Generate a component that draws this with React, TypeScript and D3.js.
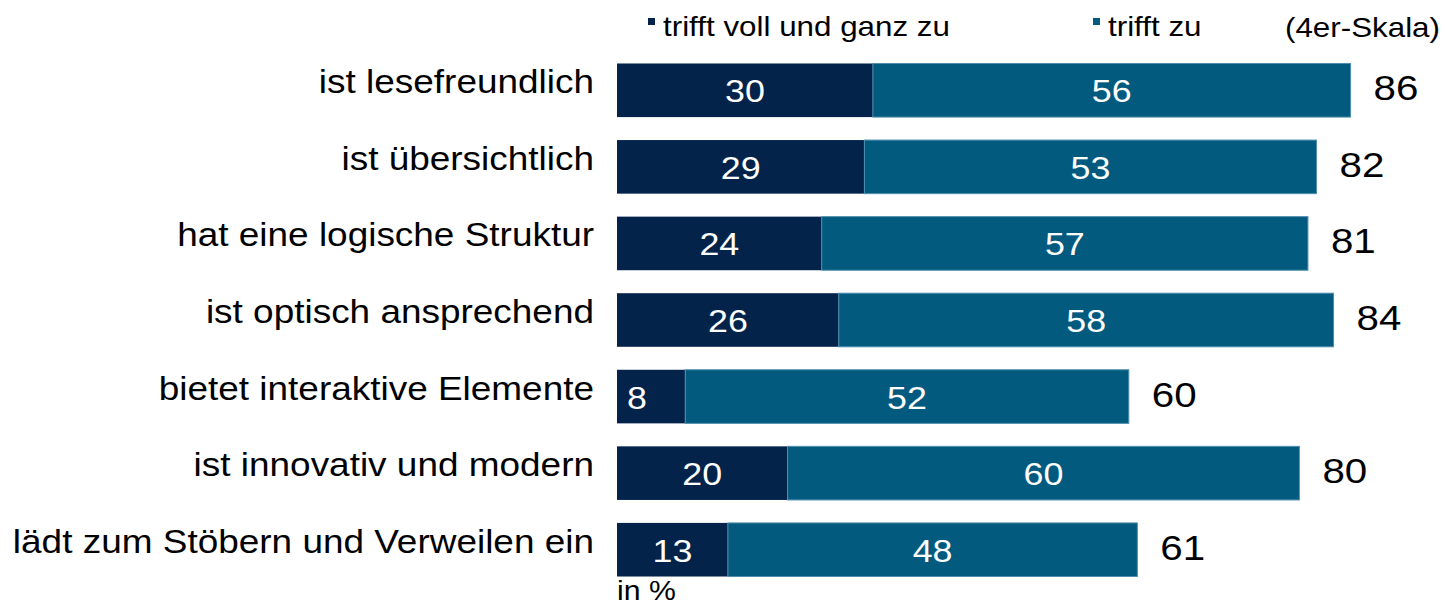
import { useRef, useEffect } from 'react';
import * as d3 from 'd3';

const categories = [
  'ist lesefreundlich',
  'ist übersichtlich',
  'hat eine logische Struktur',
  'ist optisch ansprechend',
  'bietet interaktive Elemente',
  'ist innovativ und modern',
  'lädt zum Stöbern und Verweilen ein',
];
const fullyAgree = [30, 29, 24, 26, 8, 20, 13];
const agree = [56, 53, 57, 58, 52, 60, 48];
const totals = [86, 82, 81, 84, 60, 80, 61];
const seriesNames = ['trifft voll und ganz zu', 'trifft zu'];
const scaleNote = '(4er-Skala)';
const unitNote = 'in %';

const DARK = '#03234a';
const TEAL = '#025a7e';
const STRETCH = 1.12; // text in the source is a bit wider than Arial

const App = () => {
  const svgRef = useRef(null);
  const width = 1445;
  const height = 607;

  useEffect(() => {
    const svg = d3.select(svgRef.current);
    svg.selectAll('*').remove();

    const font = '"Liberation Sans", Arial, sans-serif';
    const x0 = 617;

    const x = d3.scaleLinear().domain([0, 100]).range([x0, x0 + 853]);
    const y = d3.scaleBand().domain(categories).range([52, 588]).paddingInner(0.3).paddingOuter(0.15);

    const rows = categories.map((c, i) => ({ c, a: fullyAgree[i], b: agree[i], t: totals[i] }));

    // helper: text placed with a horizontal stretch
    const addText = (sel, px, py) =>
      sel.attr('transform', (d, i) => `translate(${px(d, i)},${py(d, i)}) scale(${STRETCH},1)`)
        .attr('font-family', font);

    const g = svg.append('g');

    // dark segment
    g.selectAll('.seg-a')
      .data(rows)
      .enter()
      .append('rect')
      .attr('x', x(0))
      .attr('y', d => y(d.c))
      .attr('width', d => x(d.a) - x(0))
      .attr('height', y.bandwidth())
      .attr('fill', DARK);

    // teal segment
    g.selectAll('.seg-b')
      .data(rows)
      .enter()
      .append('rect')
      .attr('x', d => x(d.a))
      .attr('y', d => y(d.c))
      .attr('width', d => x(d.a + d.b) - x(d.a))
      .attr('height', y.bandwidth())
      .attr('fill', TEAL)
      .attr('stroke', '#4f8fae')
      .attr('stroke-width', 1);

    const mid = d => y(d.c) + y.bandwidth() / 2;

    // values inside
    addText(
      g.selectAll('.lab-a').data(rows).enter().append('text'),
      d => (d.a < 10 ? x(0) + 10 : (x(0) + x(d.a)) / 2),
      d => mid(d) + 12
    )
      .attr('text-anchor', d => (d.a < 10 ? 'start' : 'middle'))
      .attr('fill', '#fff')
      .attr('font-size', 32)
      .text(d => d.a);

    addText(
      g.selectAll('.lab-b').data(rows).enter().append('text'),
      d => (x(d.a) + x(d.a + d.b)) / 2,
      d => mid(d) + 12
    )
      .attr('text-anchor', 'middle')
      .attr('fill', '#fff')
      .attr('font-size', 32)
      .text(d => d.b);

    // totals
    addText(
      g.selectAll('.lab-t').data(rows).enter().append('text'),
      d => x(d.t) + 23,
      d => mid(d) + 10
    )
      .attr('fill', '#000')
      .attr('font-size', 36)
      .text(d => d.t);

    // category labels
    addText(
      g.selectAll('.cat').data(rows).enter().append('text'),
      () => 594,
      d => mid(d) + 3
    )
      .attr('text-anchor', 'end')
      .attr('fill', '#000')
      .attr('font-size', 33)
      .text(d => d.c);

    // legend
    const legend = [
      { name: seriesNames[0], color: DARK, x: 648 },
      { name: seriesNames[1], color: TEAL, x: 1093 },
    ];
    legend.forEach(l => {
      svg.append('rect')
        .attr('x', l.x)
        .attr('y', 18)
        .attr('width', 7)
        .attr('height', 7)
        .attr('fill', l.color);
      addText(svg.append('text'), () => l.x + 15, () => 36)
        .attr('font-size', 28)
        .attr('fill', '#000')
        .text(l.name);
    });
    addText(svg.append('text'), () => 1440, () => 37)
      .attr('text-anchor', 'end')
      .attr('font-size', 28)
      .attr('fill', '#000')
      .text(scaleNote);

    addText(svg.append('text'), () => 617, () => 600)
      .attr('font-size', 27)
      .attr('fill', '#000')
      .text(unitNote);
  }, []);

  return (
    <svg
      ref={svgRef}
      width={width}
      height={height}
      style={{ position: 'absolute', left: 0, top: 0, background: '#fff' }}
    />
  );
};

export default App;
